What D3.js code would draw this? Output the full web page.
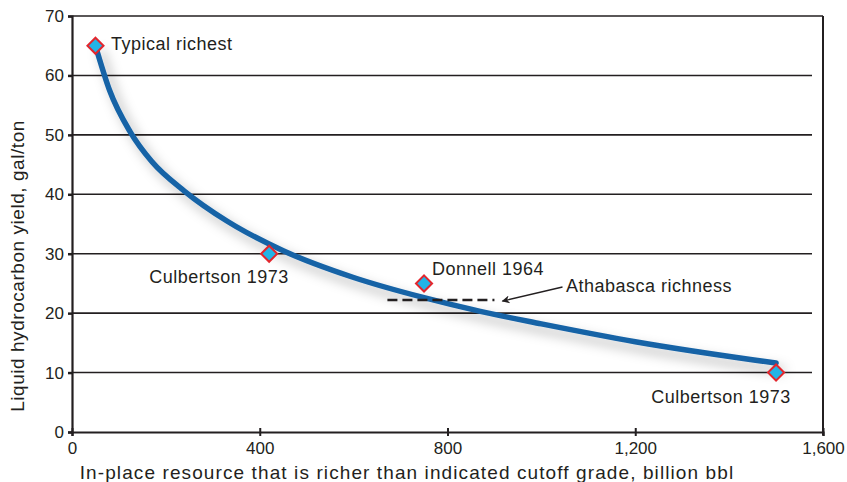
<!DOCTYPE html>
<html><head><meta charset="utf-8">
<script src="https://cdn.jsdelivr.net/npm/d3@7"></script>
<style>
body{margin:0;background:#fff;}
svg{display:block;font-family:"Liberation Sans",Arial,sans-serif;}
</style></head>
<body><svg id="c" width="847" height="482"></svg>
<script>
const xTicks = [0, 400, 800, 1200, 1600];
const xTickLabels = ["0", "400", "800", "1,200", "1,600"];
const yTicks = [0, 10, 20, 30, 40, 50, 60, 70];
const curveX = [50, 80, 124, 170, 240, 330, 450, 600, 750, 870, 1000, 1200, 1500];
const curveY = [65, 57.5, 50.5, 45.5, 40.5, 35.5, 30.5, 26, 22.6, 20.3, 18.2, 15.2, 11.6];
const pointX = [50, 420, 750, 1500];
const pointY = [65, 30, 25, 10];
const pointLabels = ["Typical richest", "Culbertson 1973", "Donnell 1964", "Culbertson 1973"];
const athabascaX = [672, 900];
const athabascaY = [22.2, 22.2];

const svg = d3.select("#c");
const x = d3.scaleLinear().domain([0, 1600]).range([72, 823]);
const y = d3.scaleLinear().domain([0, 70]).range([432, 16]);
const ink = "#231f20";

const defs = svg.append("defs");
const f = defs.append("filter").attr("id","sh").attr("x","-20%").attr("y","-20%").attr("width","140%").attr("height","140%");
f.append("feDropShadow").attr("dx",6).attr("dy",7).attr("stdDeviation",6).attr("flood-color","#000").attr("flood-opacity",0.3);
defs.append("marker").attr("id","ah").attr("viewBox","0 0 10 10").attr("refX",9).attr("refY",5)
  .attr("markerWidth",10).attr("markerHeight",8).attr("markerUnits","userSpaceOnUse").attr("orient","auto")
  .append("path").attr("d","M0,0L10,5L0,10L3,5Z").attr("fill",ink);

// gridlines
svg.append("g").selectAll("line").data(yTicks.filter(d=>d>0)).join("line")
  .attr("x1",x(0)).attr("x2",d=>d===70?x(1600):812).attr("y1",d=>y(d)).attr("y2",d=>y(d))
  .attr("stroke",ink).attr("stroke-width",1.6);
// right border
svg.append("line").attr("x1",x(1600)).attr("x2",x(1600)).attr("y1",y(70)).attr("y2",y(0)+3).attr("stroke",ink).attr("stroke-width",2);

// y axis
const ya = svg.append("g").attr("transform",`translate(${x(0)},0)`)
  .call(d3.axisLeft(y).tickValues(yTicks).tickSize(4).tickPadding(4).tickFormat(d3.format("d")));
ya.select(".domain").attr("stroke",ink).attr("stroke-width",2.2);
ya.selectAll(".tick line").attr("stroke",ink).attr("stroke-width",2.5);
ya.selectAll("text").attr("font-size",17).attr("fill",ink).attr("font-family","Liberation Sans, Arial, sans-serif");

// x axis
const xa = svg.append("g").attr("transform",`translate(0,${y(0)})`)
  .call(d3.axisBottom(x).tickValues(xTicks).tickSize(4).tickPadding(6).tickFormat((d,i)=>xTickLabels[i]));
xa.select(".domain").attr("stroke",ink).attr("stroke-width",2.2);
xa.selectAll(".tick line").attr("stroke",ink).attr("stroke-width",2).attr("y1",-4);
xa.selectAll("text").attr("font-size",17).attr("fill",ink).attr("font-family","Liberation Sans, Arial, sans-serif");

// axis titles
svg.append("text").attr("transform",`translate(24,266) rotate(-90)`)
  .attr("text-anchor","middle").attr("font-size",19).attr("letter-spacing",0.55).attr("fill",ink).text("Liquid hydrocarbon yield, gal/ton");
svg.append("text").attr("x",407).attr("y",479).attr("text-anchor","middle")
  .attr("font-size",19).attr("letter-spacing",1.1).attr("fill",ink).text("In-place resource that is richer than indicated cutoff grade, billion bbl");

// curve
const line = d3.line().x(d=>x(d[0])).y(d=>y(d[1])).curve(d3.curveMonotoneX);
svg.append("path").datum(curveX.map((v,i)=>[v,curveY[i]])).attr("d",line)
  .attr("fill","none").attr("stroke","#1763a6").attr("stroke-width",5.5).attr("stroke-linecap","round").attr("filter","url(#sh)");

// Athabasca dashed line
svg.append("line").attr("x1",x(athabascaX[0])).attr("x2",x(athabascaX[1])).attr("y1",y(athabascaY[0])).attr("y2",y(athabascaY[1]))
  .attr("stroke",ink).attr("stroke-width",2.4).attr("stroke-dasharray","10,5");
svg.append("line").attr("x1",x(1045)).attr("y1",y(24.4)).attr("x2",x(athabascaX[1])+8).attr("y2",y(athabascaY[0])+1)
  .attr("stroke",ink).attr("stroke-width",1.3).attr("marker-end","url(#ah)");
svg.append("text").attr("x",566).attr("y",292).attr("font-size",18).attr("letter-spacing",0.5).attr("fill",ink).text("Athabasca richness");

// points
svg.append("g").selectAll("path").data(pointX.map((v,i)=>[v,pointY[i]])).join("path")
  .attr("d",d3.symbol(d3.symbolDiamond2,165)())
  .attr("transform",d=>`translate(${x(d[0])},${y(d[1])})`)
  .attr("fill","#22b4e6").attr("stroke","#e3262d").attr("stroke-width",2);

// point labels
const lab = [[111,50,"start"],[219,283,"middle"],[432,275,"start"],[721,403,"middle"]];
svg.append("g").selectAll("text").data(pointLabels).join("text")
  .attr("x",(d,i)=>lab[i][0]).attr("y",(d,i)=>lab[i][1]).attr("text-anchor",(d,i)=>lab[i][2])
  .attr("font-size",18).attr("letter-spacing",0.5).attr("fill",ink).text(d=>d);
</script></body></html>
